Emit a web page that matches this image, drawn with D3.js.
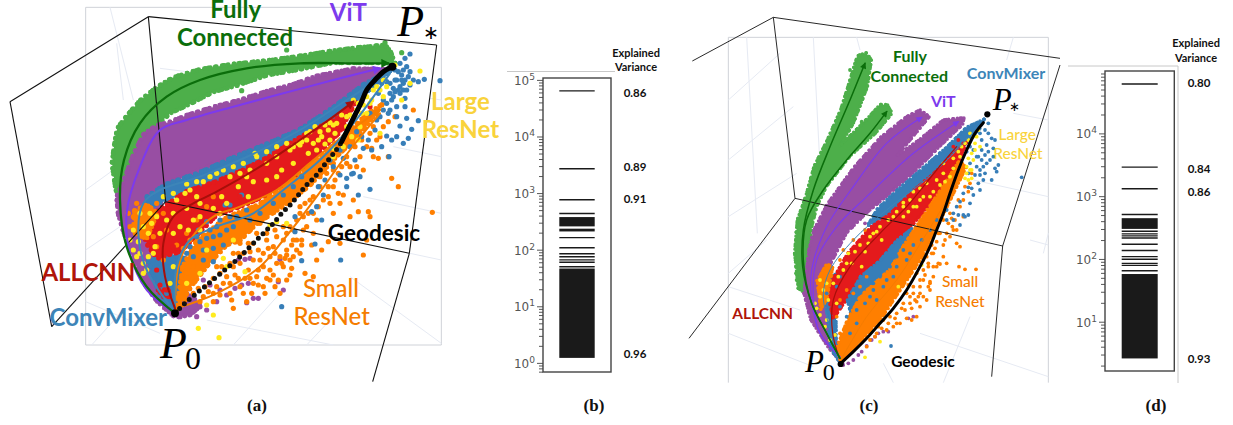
<!DOCTYPE html>
<html><head><meta charset="utf-8">
<script src="https://cdn.jsdelivr.net/npm/d3@7"></script>
<style>html,body{margin:0;padding:0;background:#fff}svg{display:block}</style></head>
<body><svg id="c" width="1233" height="425"></svg>
<script>
const seriesNames=["Fully Connected","ViT","ConvMixer","ALLCNN","Small ResNet","Large ResNet","Geodesic"];
// ---------- panel (a) ----------
const aGreen=[[1185,190],[1172,155],[1155,135],[1080,142],[1000,152],[900,168],[800,182],[700,192],[600,208],[520,232],[470,262],[420,302],[385,342],[352,385],[342,440],[336,490],[347,570],[370,610],[400,560],[420,440],[480,368],[510,340],[570,312],[640,276],[720,254],[800,226],[900,208],[1000,188],[1130,188]];
const aPurple=[[1150,208],[1060,206],[950,228],[870,256],[800,274],[720,300],[650,318],[560,346],[510,366],[470,376],[430,404],[402,460],[372,540],[350,590],[354,640],[372,700],[397,770],[432,850],[472,905],[525,952],[568,946],[606,915],[560,880],[480,760],[470,650],[500,550],[600,510],[700,470],[850,420],[1000,340],[1120,240]];
const aBlueBand=[[1170,212],[1090,254],[1000,322],[900,388],[800,432],[700,472],[600,517],[500,552],[440,590],[445,622],[560,578],[700,528],[820,468],[920,408],[1020,348],[1120,258]];
const aBlueLow=[[445,785],[500,762],[555,775],[540,860],[528,930],[482,895]];
const aBluePatch=[[595,722],[680,670],[735,655],[735,697],[660,746],[605,770]];
const aRed=[[1066,308],[1000,362],[950,384],[880,424],[800,474],[720,514],[650,544],[560,574],[500,614],[444,652],[424,690],[444,738],[472,776],[500,766],[540,756],[600,696],[650,646],[730,616],[800,586],[880,536],[950,466],[1018,398]];
const aOrange=[[1146,314],[1080,402],[1010,470],[930,556],[860,612],[770,672],[720,722],[680,735],[620,800],[575,858],[530,930],[548,800],[590,722],[680,652],[780,612],[880,542],[960,472],[1040,402],[1100,342]];
const aOrangeLeft=[[404,632],[440,614],[472,640],[440,716],[400,698]];
const aRedLow=[[475,870],[505,868],[510,890],[490,890]];
const aOrangeDots=[[1297,637],[1195,560],[1175,535],[1165,470],[1135,475],[1105,635],[1110,650],[1015,580],[1020,610],[990,610],[1060,600],[1050,650],[1075,635],[1000,640],[1030,585],[1100,720],[1090,765],[1020,730],[985,725],[965,750],[935,735],[950,780],[940,830],[915,820],[870,825],[840,880],[825,860],[810,840],[850,800],[880,770],[900,760],[905,720],[860,750],[830,790],[790,800],[760,780],[745,810],[770,830],[790,860],[755,880],[720,860],[695,900],[700,925],[740,905],[650,860],[640,880],[1135,350],[1240,330],[1185,350],[1165,365],[1115,445],[1080,470],[1120,470],[1090,510],[1040,490],[1015,520],[980,520],[960,560],[970,600],[940,640],[900,620],[890,660],[920,680],[940,700],[880,720],[860,700],[830,710],[800,720],[790,760],[800,700],[760,730],[730,760],[700,800],[680,830],[660,820],[770,700],[720,730],[700,760],[740,680],[780,670],[1050,500],[1000,560],[930,600],[870,680],[880,690],[850,680],[890,750],[820,740],[840,770],[810,770],[780,780],[720,790],[690,850],[760,850],[810,810],[870,780],[900,640],[950,660],[1000,510],[940,590],[1065,440],[1110,400],[1070,500],[1140,410],[1150,380],
[905,735],[890,720],[875,735],[860,765],[845,790],[820,825],[800,835],[775,810],[750,835],[735,835],[715,835],[705,825],[670,850],[660,885],[625,875],[610,890],[600,905],[640,905],[690,880],[730,880],[775,855],[795,880],[835,840],[860,840],[875,805],[855,775],[825,760],[805,745],[775,750],[750,755],[745,730],[715,760],[690,790],[665,800],[640,835],[615,860],[595,865],[580,880],[555,900],[910,650],[925,640],[955,620],[985,590],[1005,540],[1025,500],[1040,470],[1060,430],[985,560],[910,690],[850,720],[825,690],[915,610],[960,530],[1000,490],[1085,420],[1100,440],[1120,380],[1130,420],
[400,650],[390,680],[385,640],[410,610],[470,610],[490,640],[500,690],[460,710],[470,740],[490,780],[420,700],[560,700],[590,660],[620,620],[640,590],[530,735],[550,745],[570,720],[580,800],[560,820],[550,850],[545,890],[610,800],[625,770],[650,800]];
const aBlueDots=[[1230,162],[1215,175],[1200,190],[1220,200],[1230,215],[1240,240],[1255,245],[1273,238],[1320,242],[1210,250],[1220,270],[1200,280],[1215,295],[1190,320],[1170,330],[1215,320],[1255,362],[1235,388],[1220,355],[1200,378],[1225,415],[1210,430],[1160,408],[1175,420],[1190,410],[1167,470],[1145,440],[1115,450],[1090,445],[1065,480],[1030,475],[1060,520],[1080,530],[1000,500],[1020,525],[1170,280],[1150,300],[1180,265],[1160,245],[1145,250],[1135,280],[1170,250],[1190,240],[1205,225],[1185,210],[1210,210],[1195,215],[1110,568],[1075,585],[1040,560],[1055,522],[1040,535],[965,660],[935,635],[885,650],[885,695],[945,732],[905,782],[845,920],[950,620],[970,585],[675,615],[725,585],[1022,780],[570,740],[600,725],[620,715],[640,710],[660,705],[680,690],[700,680],[610,750],[640,745],[670,735],[580,770],[560,760],[590,710],[630,690],[650,680],[710,650],[740,630],[750,660],[690,650],[640,785],[610,780],[1130,360],[1110,340],[1185,240],[1200,260],[1180,290],[1160,310],[1190,350],
[1225,230],[1215,240],[1205,240],[1230,255],[1195,270],[1185,275],[1210,270],[1175,300],[1165,340],[1150,330],[1140,350],[1125,390],[1105,420],[1085,410],[1070,395],[1050,440],[1020,450],[990,480],[975,540],[955,560],[530,830],[520,780],[540,770],[505,800],[490,820],[470,800],[460,780],[480,850],[500,880],[660,660],[690,615],[620,665],[595,690],[780,640],[820,610],[850,585],[880,560],[905,530]];
const aYellowDots=[[1000,375],[985,390],[960,395],[965,410],[1005,400],[940,430],[900,435],[830,470],[800,490],[765,460],[750,510],[700,500],[720,520],[740,530],[690,530],[630,530],[610,545],[570,570],[590,590],[520,580],[530,600],[600,650],[640,625],[680,610],[560,625],[1050,345],[1070,330],[1090,315],[1120,270],[1130,260],[1150,240],[1100,290],[1260,213],[1185,195],[1205,300],[1150,290],[1140,400],[1230,250],[1040,380],[1010,370],[1075,420],[1055,410],[920,420],[870,450],[450,640],[470,650],[420,640],[400,690],[445,700],[415,725],[400,750],[410,770],[430,790],[440,810],[445,770],[460,760],[480,700],[500,660],[520,700],[540,680],[580,660],[600,690],[430,820],[465,740],[595,985],[657,1013],[640,945],[620,915],[810,675],[830,665],[860,670],[700,720],[620,750],[670,775],[680,800],[600,820],[560,850],[510,850],[520,800],[735,815],[1140,270],[1160,260],[1115,300],[1100,340],[1080,380],[1030,440],[1000,470],
[880,440],[895,430],[905,425],[920,400],[930,395],[945,380],[975,375],[990,368],[1025,345],[955,420],[975,432],[990,420],[1000,445],[1020,420],[1040,350],[590,545],[560,552],[650,520],[670,510],[730,490],[770,470],[800,455],[830,440],[860,430],[1065,350],[1085,340],[1110,310],[1075,310],[1060,300],[555,580],[600,610],[665,590],[715,560],[760,545],[800,540],[845,510],[880,490],[925,460],[950,450],[520,640],[490,590],[430,680],[390,720],[420,760],[455,670],[565,690],[660,640],[745,590],[830,530]];
const aRedDots=[[960,440],[1030,385],[905,465],[840,510],[790,550],[720,590],[660,610],[610,640],[575,690],[545,720],[520,740],[505,760],[470,810],[480,855],[500,870],[1110,320],[1085,305]];
const aPurpleDots=[[750,775],[735,778],[715,780],[840,778],[835,845],[850,870],[775,895],[760,895],[740,908],[705,865],[725,855],[745,850],[680,885],[650,905],[600,920],[580,935],[620,930],[560,920],[660,870],[630,855],[610,840],[590,950],[540,950]];
const aGreenDots=[[725,272],[577,465],[1155,128],[1205,158],[860,150],[400,490],[425,510],[450,525]];
const aTrajGreen=[[525,940],[440,860],[380,740],[360,600],[372,480],[420,370],[500,290],[600,240],[740,205],[900,190],[1060,190],[1165,190]];
const aTrajPurple=[[525,940],[440,870],[390,760],[380,640],[420,500],[480,390],[560,360],[700,320],[850,280],[1000,240],[1140,205]];
const aTrajRed=[[525,925],[495,830],[490,730],[520,650],[580,610],[650,575],[780,500],[900,420],[1000,350],[1060,305]];
const aTrajBlue1=[[520,930],[440,810],[415,700],[430,610],[480,570],[600,530],[720,480],[900,390],[1040,300],[1170,215]];
const aTrajBlue2=[[525,920],[530,800],[570,720],[650,680],[760,640],[850,570],[960,480],[1060,370],[1170,220]];
const aTrajOrange1=[[525,930],[535,800],[570,720],[640,650],[720,620],[830,570],[940,480],[1040,400],[1140,330]];
const aTrajOrange2=[[530,925],[650,880],[780,800],[850,720],[950,590],[1050,450],[1140,340]];
const aGeoDotted=[[525,940],[560,905],[590,880],[620,855],[650,830],[680,805],[710,780],[740,750],[770,720],[795,695],[820,670],[845,640],[870,615],[895,585],[920,555],[945,530],[965,505],[985,480],[1005,455],[1025,425]];
const aGeoSolid=[[1025,425],[1040,395],[1055,365],[1070,335],[1085,305],[1100,270],[1125,240],[1150,215],[1175,200]];
const aGreyBox=[[257,22],[1324,22],[1324,1035],[257,1035],[257,22]];
const aGrid=[[[330,22],[400,300]],[[480,205],[640,225]],[[1180,440],[1324,470]],[[1090,590],[1324,640]],[[1230,760],[1324,780]],[[257,570],[340,510]],[[257,750],[360,680]],[[275,1035],[370,930]],[[257,905],[480,1000]],[[700,1035],[840,880]],[[920,1035],[1000,950]],[[1050,830],[1324,1030]],[[1324,300],[1290,295]],[[350,130],[370,300]],[[620,960],[1000,1035]]];
const aFrame=[[[445,50],[1310,135]],[[445,50],[30,305]],[[30,305],[155,980]],[[445,50],[497,605]],[[497,605],[1228,760]],[[497,605],[155,980]],[[1310,135],[1228,760]],[[1228,760],[1118,1145]]];
const aP0=[525,940], aPs=[1177,200];
// ---------- panel (c) ----------
const cGreen=[[355,865],[344,760],[352,660],[377,590],[402,500],[442,420],[482,330],[507,250],[532,168],[558,158],[574,180],[562,260],[520,370],[478,440],[560,358],[600,314],[622,314],[636,340],[588,398],[510,468],[440,558],[410,620],[395,680],[385,800],[370,875]];
const cPurple=[[372,880],[387,750],[402,690],[442,612],[522,502],[602,412],[680,350],[720,330],[748,350],[700,408],[650,468],[720,418],[790,360],[852,353],[848,373],[780,438],[700,518],[620,588],[560,638],[500,698],[452,790],[432,860],[472,1040],[490,1096],[442,1038],[392,958]];
const cBlueBand=[[912,358],[860,382],[800,442],[720,512],[650,572],[592,627],[562,678],[600,658],[680,608],[760,538],[840,448],[898,388]];
const cBluePatch=[[542,830],[600,782],[650,722],[698,684],[678,758],[620,838],[560,898],[512,938],[502,900]];
const cBlueLow=[[432,842],[468,822],[468,1040],[478,1086],[452,1043]];
const cRed=[[858,428],[810,472],[760,522],[700,572],[630,642],[572,682],[502,762],[452,850],[447,898],[460,956],[500,898],[560,848],[620,788],[660,718],[720,648],[790,558],[838,488]];
const cOrange=[[858,502],[800,622],[772,680],[722,778],[662,868],[602,958],[522,1048],[482,1086],[472,1040],[502,960],[542,888],[630,808],[670,738],[730,648],[790,558],[838,482]];
const cOrangeLeft=[[412,842],[440,792],[458,802],[440,898],[422,928]];
const cOrangeDots=[[760,760],[775,790],[800,790],[760,830],[730,810],[750,850],[730,890],[740,900],[750,870],[720,920],[710,950],[695,960],[680,955],[675,930],[700,880],[720,860],[730,840],[710,820],[700,800],[740,770],[730,780],[770,725],[755,735],[650,970],[640,980],[660,970],[630,950],[650,940],[670,910],[680,880],[620,990],[590,1000],[570,1020],[560,1040],[595,980],[610,960],[690,910],[705,900],[685,855],[675,840],[805,670],[820,690],[810,640],[840,620],[850,650],[780,700],[810,710],[830,730],[840,740],[888,808],[855,808],[837,800],[780,792],[770,800],[817,680],[800,700],[750,845],[745,860],[865,575],[850,600],[825,660],[790,735],[745,800],[715,890],
[790,660],[775,700],[755,760],[745,790],[720,840],[700,860],[690,890],[665,925],[645,955],[625,970],[605,985],[585,1010],[720,880],[710,905],[695,925],[735,825],[765,745],[795,720],[815,655],[835,600],[855,560],[875,520],[870,550],[830,690],[790,770],[760,800],[480,780],[490,750],[520,720],[555,690],[520,880],[540,860],[560,830],[500,870],[480,900],[470,950],[480,1000],[500,1010],[520,990],[540,950]];
const cBlueDots=[[945,505],[950,515],[930,480],[940,445],[905,420],[920,435],[935,540],[910,540],[895,550],[875,565],[865,562],[900,570],[880,585],[870,610],[865,645],[850,645],[830,620],[820,660],[890,500],[885,525],[870,490],[865,520],[915,465],[915,390],[925,370],[905,450],[900,400],[895,470],[920,490],[910,500],[1025,532],[633,1038],[840,675],[855,650],[800,660],[820,640],[580,850],[600,830],[620,840],[580,870],[560,820],[630,800],[650,770],[670,750],[680,780],[600,790],[610,770],[540,880],[520,900],[500,950],[480,920],[530,930],[570,890],
[925,400],[935,415],[945,420],[925,455],[940,470],[955,495],[900,525],[890,470],[880,450],[870,440],[860,455],[905,480],[900,510],[915,520],[850,580],[840,605],[835,645],[800,630],[770,660],[750,690],[725,720],[700,735],[690,760],[650,800],[640,830],[610,860],[590,900],[555,910],[530,970],[510,1000],[460,1000],[450,950],[440,880],[470,860],[480,830]];
const cYellowDots=[[890,410],[885,430],[875,460],[865,475],[860,500],[865,540],[855,535],[875,535],[900,440],[895,390],[870,400],[855,430],[820,505],[790,520],[770,540],[740,550],[720,565],[700,575],[670,620],[690,600],[730,590],[760,575],[710,620],[685,635],[790,490],[670,608],[580,700],[570,710],[540,735],[505,760],[545,800],[490,810],[460,850],[420,840],[405,910],[420,945],[435,980],[450,1020],[420,890],[445,900],[470,910],[555,1072],[600,1025],[725,795],[655,860],
[885,450],[880,480],[870,510],[875,510],[860,520],[880,410],[865,420],[840,470],[810,530],[795,545],[780,555],[750,590],[700,620],[670,650],[640,650],[625,660],[600,680],[590,695],[565,730],[555,755],[525,755],[515,790],[500,790],[475,830],[440,850],[430,870],[440,960],[465,1005],[410,925],[720,600],[650,635],[605,720],[820,475],[835,455],[845,440]];
const cRedDots=[[820,440],[850,430],[835,420],[700,600],[660,660],[600,720],[540,800],[475,880],[465,910],[460,940]];
const cPurpleDots=[[575,1020],[560,1038],[545,1055],[535,1065],[520,1080],[505,1090],[595,1000],[625,995],[685,955],[700,950],[555,670],[585,1010],[610,995]];
const cGreenDots=[[355,855],[475,705],[460,740],[450,755],[440,775],[545,365],[510,210],[348,820],[350,840]];
const cTrajGreen1=[[480,1075],[440,1000],[395,910],[368,800],[370,690],[400,570],[450,440],[510,300],[555,190]];
const cTrajGreen2=[[480,1075],[440,1000],[395,910],[370,780],[380,660],[430,570],[500,480],[570,400],[620,335]];
const cTrajPurple1=[[480,1070],[420,1000],[395,900],[395,810],[440,680],[520,560],[620,430],[725,352]];
const cTrajPurple2=[[480,1070],[420,1000],[400,890],[410,780],[470,680],[560,590],[700,460],[835,365]];
const cTrajRed=[[478,1075],[458,1000],[460,900],[510,800],[600,700],[680,620],[770,510],[830,440]];
const cTrajBlue=[[478,1075],[440,950],[430,880],[450,810],[520,720],[620,630],[760,520],[900,375]];
const cTrajOrange=[[480,1085],[560,950],[650,840],[740,700],[830,550]];
const cGeo=[[480,1092],[520,1055],[560,1015],[600,970],[640,925],[680,870],[720,800],[750,740],[770,690],[790,640],[810,580],[835,510],[860,450],[885,400],[910,368]];
const cGreyLines=[[[145,112],[1105,112]],[[145,112],[145,1148]],[[1105,112],[1105,1148]]];
const cGrid=[[[200,112],[232,700]],[[400,112],[420,500]],[[530,112],[540,150]],[[145,300],[300,160]],[[145,480],[340,320]],[[145,650],[350,520]],[[145,820],[260,720]],[[145,1000],[400,1100]],[[145,860],[360,930]],[[880,540],[1105,590]],[[1000,340],[1105,360]],[[1050,720],[1105,735]],[[720,1000],[1105,1130]],[[1090,760],[1105,700]],[[1000,112],[980,180]],[[610,1090],[640,1148]],[[790,1148],[870,950]]];
const cFrame=[[[280,52],[1140,175]],[[280,52],[37,183]],[[280,52],[345,595]],[[345,595],[968,738]],[[345,595],[27,1015]],[[1140,195],[968,738]],[[968,738],[935,1130]]];
const cP0=[482,1092], cPs=[922,343];
// ---------- spectra ----------
const bTicks=[1,10,100,1000,10000,100000];
const bLines=[64000,2690,763,437,163,108,85,75,66,60,50];
const bBands=[[1.225,46.5],[258,377],[210,235]];
const dTicks=[10,100,1000,10000];
const dLines=[61300,2900,1310,509,276,251,233,216,171,136,109,99,85,79,65];
const dBands=[[2.6,57.5],[301,446]];
const bVarLabels=["0.86","0.89","0.91","0.96"];
const dVarLabels=["0.80","0.84","0.86","0.93"];
const bVarValues=[50300,2460,680,1.24];
const dVarValues=[54600,2345,1012,2.19];

const svg=d3.select("#c");
const LATO="Lato,sans-serif", SERIF="'Liberation Serif',serif";
const COL={green:"#4daf4a",purple:"#984ea3",blue:"#377eb8",red:"#e41a1c",orange:"#ff7f00",yellow:"#ffeb1e",
  tGreen:"#0b6e0b",tPurple:"#7c3aed",tBlue:"#3d85b8",tRed:"#b01509",tOrange:"#f57c00",tYellow:"#f9d33c"};
const defs=svg.append("defs");
const arrowFor=(c,s)=>{const id="a"+c.slice(1)+"s"+s;if(defs.select("#"+id).empty()){defs.append("marker").attr("id",id).attr("viewBox","0 0 10 10").attr("refX",8).attr("refY",5).attr("markerWidth",s).attr("markerHeight",s*.8).attr("markerUnits","userSpaceOnUse").attr("orient","auto").append("path").attr("d","M0,0L10,5L0,10Z").attr("fill",c);}return `url(#${id})`;};

function panel(o){
  const g=svg.append("g");
  const x=d3.scaleLinear().domain(o.xd).range(o.xr), y=d3.scaleLinear().domain(o.yd).range(o.yr);
  const ln=d3.line().x(d=>x(d[0])).y(d=>y(d[1]));
  const closed=d3.line().x(d=>x(d[0])).y(d=>y(d[1])).curve(d3.curveLinearClosed);
  const smooth=d3.line().x(d=>x(d[0])).y(d=>y(d[1])).curve(d3.curveCatmullRom.alpha(.5));
  (o.greyLines||[]).forEach(s=>g.append("path").attr("d",ln(s)).attr("fill","none").attr("stroke","#cfd2d8").attr("stroke-width",1));
  o.grid.forEach(s=>g.append("path").attr("d",ln(s)).attr("fill","none").attr("stroke","#e6eaf3").attr("stroke-width",1));
  const blob=(pts,c)=>{
    const d=closed(pts);
    g.append("path").attr("d",d).attr("fill",c);
    [2.3,3.7,5.9].forEach(k=>g.append("path").attr("d",d).attr("fill","none").attr("stroke",c).attr("stroke-width",o.r*1.9).attr("stroke-linecap","round").attr("stroke-dasharray",`0 ${o.r*k}`));
  };
  const dots=(pts,c)=>{g.append("g").selectAll("circle").data(pts).join("circle").attr("cx",d=>x(d[0])).attr("cy",d=>y(d[1])).attr("r",o.r).attr("fill",c);};
  o.layers.forEach(l=>{ if(l.blob) blob(l.blob,COL[l.c]); if(l.dots) dots(l.dots,COL[l.c]); });
  o.frame.forEach(s=>g.append("path").attr("d",ln(s)).attr("fill","none").attr("stroke","#111").attr("stroke-width",o.frameW));
  o.trajs.forEach(t=>{const p=g.append("path").attr("d",smooth(t.d)).attr("fill","none").attr("stroke",t.c).attr("stroke-width",t.w).attr("stroke-linecap","round");if(t.arrow)p.attr("marker-end",arrowFor(t.c,o.arrowS));});
  o.geoDotted&&g.append("path").attr("d",smooth(o.geoDotted)).attr("fill","none").attr("stroke","#111").attr("stroke-width",o.geoW).attr("stroke-linecap","round").attr("stroke-dasharray",`0 ${o.geoGap}`);
  g.append("path").attr("d",smooth(o.geoSolid)).attr("fill","none").attr("stroke","#000").attr("stroke-width",o.geoSolidW).attr("stroke-linecap","round");
  [o.p0,o.ps].forEach(p=>g.append("circle").attr("cx",x(p[0])).attr("cy",y(p[1])).attr("r",o.endR).attr("fill","#000"));
  o.labels.forEach(l=>g.append("text").attr("x",x(l[1])).attr("y",y(l[2])).attr("text-anchor",l[5]||"middle").attr("font-family",l[6]||LATO).attr("font-weight",l[7]||700).attr("font-style",l[8]||"normal").attr("font-size",l[4]).attr("fill",l[3]).text(l[0]));
}
panel({xd:[0,1440],xr:[0,480],yd:[0,1200],yr:[0,400],r:2.6,frameW:1.1,arrowS:11,greyLines:[aGreyBox],grid:aGrid,frame:aFrame,
 layers:[{blob:aGreen,c:"green"},{dots:aGreenDots,c:"green"},{blob:aPurple,c:"purple"},{dots:aPurpleDots,c:"purple"},{blob:aBlueBand,c:"blue"},{blob:aBlueLow,c:"blue"},{blob:aRed,c:"red"},{blob:aRedLow,c:"red"},{blob:aBluePatch,c:"blue"},{blob:aOrange,c:"orange"},{blob:aOrangeLeft,c:"orange"},{dots:aOrangeDots,c:"orange"},{dots:aBlueDots,c:"blue"},{dots:aRedDots,c:"red"},{dots:aYellowDots,c:"yellow"}],
 trajs:[{d:aTrajOrange1,c:"#f57c00",w:2,arrow:1},{d:aTrajOrange2,c:"#f57c00",w:2},{d:aTrajBlue1,c:"#3d85b8",w:2},{d:aTrajBlue2,c:"#3d85b8",w:2},{d:aTrajRed,c:"#a80f0a",w:2,arrow:1},{d:aTrajPurple,c:COL.tPurple,w:2,arrow:1},{d:aTrajGreen,c:COL.tGreen,w:2.3,arrow:1}],
 geoDotted:aGeoDotted,geoW:5,geoGap:6.6,geoSolid:aGeoSolid,geoSolidW:5,p0:aP0,ps:aPs,endR:4,
 labels:[["Fully",707,54,COL.tGreen,24],["Connected",705,137,COL.tGreen,24],["ViT",1045,64,COL.tPurple,24],["Large",1293,330,COL.tYellow,24,"start"],["ResNet",1265,415,COL.tYellow,24,"start"],["Geodesic",1122,722,"#000",22.5],["Small",993,890,COL.tOrange,24,"middle",LATO,500],["ResNet",995,975,COL.tOrange,24,"middle",LATO,500],["ALLCNN",265,842,COL.tRed,24],["ConvMixer",325,978,COL.tBlue,24],
 ["P",480,1075,"#000",44,"start",SERIF,400,"italic"],["0",555,1108,"#000",32,"start",SERIF,400],["P",1192,107,"#000",44,"start",SERIF,400,"italic"],["∗",1268,117,"#000",19,"start",SERIF,400]]});
panel({xd:[0,1140],xr:[680,1060],yd:[0,1200],yr:[0,400],r:1.9,frameW:.9,arrowS:8,greyLines:cGreyLines,grid:cGrid,frame:cFrame,
 layers:[{blob:cGreen,c:"green"},{dots:cGreenDots,c:"green"},{blob:cPurple,c:"purple"},{dots:cPurpleDots,c:"purple"},{blob:cBlueBand,c:"blue"},{blob:cBlueLow,c:"blue"},{blob:cRed,c:"red"},{blob:cBluePatch,c:"blue"},{blob:cOrange,c:"orange"},{blob:cOrangeLeft,c:"orange"},{dots:cOrangeDots,c:"orange"},{dots:cBlueDots,c:"blue"},{dots:cRedDots,c:"red"},{dots:cYellowDots,c:"yellow"}],
 trajs:[{d:cTrajOrange,c:"#f57c00",w:1},{d:cTrajBlue,c:"#3d85b8",w:1},{d:cTrajRed,c:"#a80f0a",w:1.2},{d:cTrajPurple1,c:COL.tPurple,w:1.2,arrow:1},{d:cTrajPurple2,c:COL.tPurple,w:1.2,arrow:1},{d:cTrajGreen1,c:COL.tGreen,w:1.5,arrow:1},{d:cTrajGreen2,c:COL.tGreen,w:1.5,arrow:1}],
 geoSolid:cGeo,geoSolidW:3,p0:cP0,ps:cPs,endR:3.1,
 labels:[["Fully",690,185,COL.tGreen,16],["Connected",688,245,COL.tGreen,16],["ViT",790,320,COL.tPurple,16],["ConvMixer",978,238,COL.tBlue,16],["Large",1012,420,COL.tYellow,15.5,"middle",LATO,500],["ResNet",1014,478,COL.tYellow,15.5,"middle",LATO,500],["Small",840,862,COL.tOrange,15.5,"middle",LATO,500],["ResNet",840,922,COL.tOrange,15.5,"middle",LATO,500],["ALLCNN",248,958,COL.tRed,15.5],["Geodesic",729,1100,"#000",15.5],
 ["P",375,1115,"#000",31,"start",SERIF,400,"italic"],["0",428,1140,"#000",24,"start",SERIF,400],["P",938,330,"#000",31,"start",SERIF,400,"italic"],["∗",988,332,"#000",13,"start",SERIF,400]]});

function spectrum(o){
  const g=svg.append("g");
  const y=d3.scaleLog().domain(o.domain).range([o.y1,o.y0]);
  const minor=[];for(let k=-1;k<6;k++)for(let m=2;m<10;m++){const v=m*Math.pow(10,k);if(v>=o.domain[0]&&v<=o.domain[1])minor.push(v);}
  const ax1=g.append("g").attr("transform",`translate(${o.x0},0)`).call(d3.axisLeft(y).tickValues(minor).tickSize(4).tickFormat(""));
  const ax2=g.append("g").attr("transform",`translate(${o.x0},0)`).call(d3.axisLeft(y).tickValues(o.ticks).tickSize(6).tickFormat(""));
  [ax1,ax2].forEach(a=>{a.select(".domain").remove();a.selectAll("line").attr("stroke","#444").attr("stroke-width",.9);});
  o.ticks.forEach(t=>{const e=Math.round(Math.log10(t));const tx=g.append("text").attr("x",o.x0-8).attr("y",y(t)+5).attr("text-anchor","end").attr("font-family","'DejaVu Sans'").attr("font-size",12.5).attr("fill","#555").attr("textLength",21).attr("lengthAdjust","spacingAndGlyphs");tx.append("tspan").text("10");tx.append("tspan").attr("dy",-5).attr("font-size",9.5).text(e);});
  g.selectAll(".b").data(o.bands).join("rect").attr("x",o.bx0).attr("width",o.bx1-o.bx0).attr("y",d=>y(d[1])).attr("height",d=>y(d[0])-y(d[1])).attr("fill","#1a1a1a");
  g.selectAll(".l").data(o.lines).join("line").attr("x1",o.bx0).attr("x2",o.bx1).attr("y1",d=>y(d)).attr("y2",d=>y(d)).attr("stroke","#1a1a1a").attr("stroke-width",1.4);
  g.append("rect").attr("x",o.x0).attr("y",o.y0).attr("width",o.x1-o.x0).attr("height",o.y1-o.y0).attr("fill","none").attr("stroke","#444").attr("stroke-width",1.4);
  o.rule.forEach(s=>g.append("path").attr("d",d3.line()(s)).attr("fill","none").attr("stroke","#c8c8c8").attr("stroke-width",1));
  o.head.forEach((t,i)=>g.append("text").attr("x",o.headX).attr("y",o.headY[i]).attr("text-anchor","middle").attr("font-family",LATO).attr("font-weight",700).attr("font-size",11).attr("fill","#111").text(t));
  o.varLabels.forEach((t,i)=>g.append("text").attr("x",o.varX).attr("y",y(o.varValues[i])).attr("text-anchor","middle").attr("font-family",LATO).attr("font-weight",700).attr("font-size",11.5).attr("fill","#111").text(t));
}
spectrum({domain:[0.69,1.08e5],y0:78,y1:372,x0:543,x1:611,bx0:559.3,bx1:594.7,ticks:bTicks,lines:bLines,bands:bBands,rule:[[[507,71.5],[615,71.5]]],head:["Explained","Variance"],headX:636,headY:[56.5,70.5],varLabels:bVarLabels,varValues:bVarValues,varX:635});
spectrum({domain:[1.64,9.86e4],y0:71,y1:371,x0:1105,x1:1174.3,bx0:1121.7,bx1:1157.7,ticks:dTicks,lines:dLines,bands:dBands,rule:[[[1068,66],[1178,66],[1178,383]]],head:["Explained","Variance"],headX:1196,headY:[46.5,61.5],varLabels:dVarLabels,varValues:dVarValues,varX:1199});

const caps=["(a)","(b)","(c)","(d)"], capX=[257,594,869,1156];
svg.selectAll(".cap").data(caps).join("text").attr("x",(d,i)=>capX[i]).attr("y",411).attr("text-anchor","middle").attr("font-family",SERIF).attr("font-weight",700).attr("font-size",17).attr("fill","#111").text(d=>d);
</script></body></html>
